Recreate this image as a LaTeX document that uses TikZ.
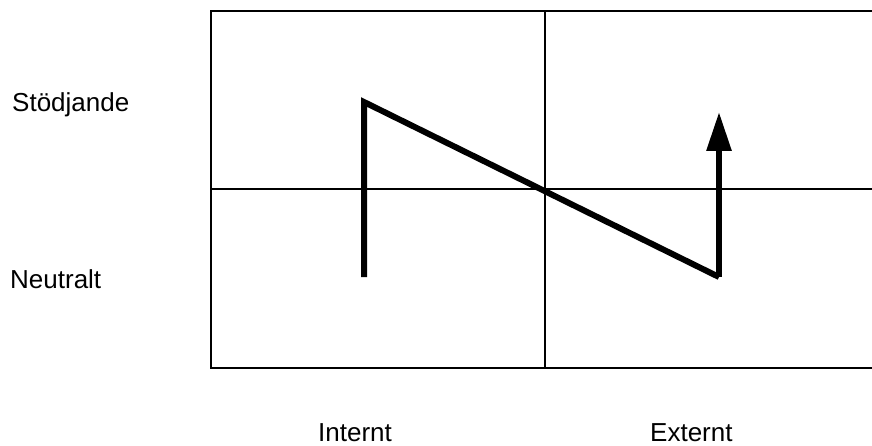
\documentclass[tikz,border=0pt]{standalone}
\usepackage{fontspec}
\setmainfont{Liberation Sans}
\usetikzlibrary{arrows.meta}
\begin{document}
\begin{tikzpicture}[x=1pt,y=-1pt,
  lbl/.style={anchor=base west,inner sep=0pt,font=\fontsize{26}{31}\selectfont},
  frame/.style={line width=2pt},
  axis/.style={line width=1.3pt},
  trend/.style={line width=6pt,line join=miter,line cap=butt}]
\useasboundingbox (0,0) rectangle (872,446);
% frame corners
\coordinate (tl) at (211,11);
\coordinate (bl) at (211,368);
\coordinate (tr) at (874,11);
\coordinate (br) at (874,368);
\coordinate (mt) at (545,11);
\coordinate (mb) at (545,368);
\coordinate (ml) at (211,189);
\coordinate (mr) at (874,189);
\draw[frame] (tr) -- (tl) -- (bl) -- (br);
\draw[axis] (mt) -- (mb);
\draw[axis] (ml) -- (mr);
% trend path
\coordinate (p1) at (364,277);
\coordinate (p2) at (364,102);
\coordinate (p3) at (719,277);
\coordinate (p4) at (719,112);
\draw[trend] (p1) -- (p2) -- (p3);
\draw[trend,-{Triangle[length=39pt,width=24pt]}] (p3) -- (p4);
% labels
\node[lbl] (stod) at (12,112) {Stödjande};
\node[lbl] (neut) at (10,288) {Neutralt};
\node[lbl] (int) at (318,441) {Internt};
\node[lbl] (ext) at (650,441) {Externt};
\end{tikzpicture}
\end{document}
